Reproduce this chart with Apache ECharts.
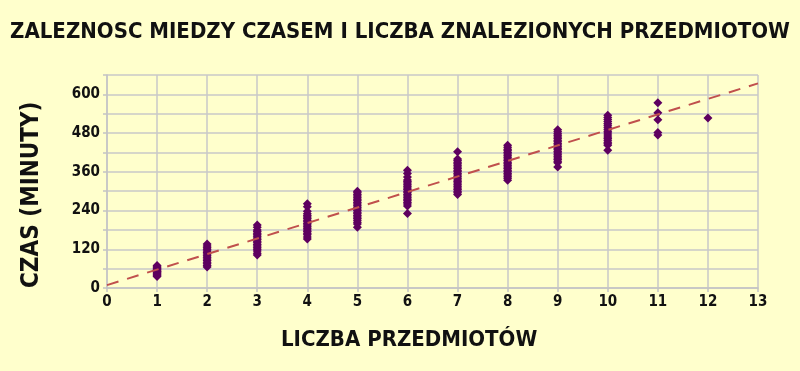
<!DOCTYPE html>
<html>
<head>
<meta charset="utf-8">
<script src="https://cdn.jsdelivr.net/npm/echarts@6/dist/echarts.min.js"></script>
<style>
html,body{margin:0;padding:0;background:#ffffcc;}
#chart{width:800px;height:371px;}
</style>
</head>
<body>
<div id="chart"></div>
<script>
// Data
const titleText = 'ZALEZNOSC MIEDZY CZASEM I LICZBA ZNALEZIONYCH PRZEDMIOTOW';
const xAxisName = 'LICZBA PRZEDMIOTÓW';
const yAxisName = 'CZAS (MINUTY)';

const itemCounts = [1, 2, 3, 4, 5, 6, 7, 8, 9, 10, 11, 12];
const times1 = [36, 39, 42, 45, 48, 50, 52, 55, 58, 60, 63, 66, 70];
const times2 = [65, 70, 75, 80, 85, 90, 95, 100, 105, 110, 115, 120, 125, 130, 136];
const times3 = [102, 108, 115, 120, 125, 130, 135, 140, 145, 150, 155, 160, 165, 170, 175, 180, 188, 195];
const times4 = [152, 158, 165, 170, 175, 180, 185, 190, 195, 200, 205, 210, 215, 220, 225, 230, 238, 252, 261];
const times5 = [188, 198, 204, 210, 215, 220, 225, 230, 235, 240, 245, 250, 255, 260, 265, 270, 275, 280, 285, 290, 295, 300];
const times6 = [231, 254, 260, 265, 270, 275, 280, 285, 290, 295, 300, 305, 310, 315, 320, 325, 330, 335, 344, 355, 365];
const times7 = [290, 295, 300, 305, 310, 315, 320, 325, 330, 335, 340, 345, 350, 355, 360, 365, 370, 375, 380, 385, 390, 395, 400, 422];
const times8 = [334, 340, 345, 350, 355, 360, 365, 370, 375, 380, 385, 390, 395, 400, 405, 410, 415, 420, 425, 430, 436, 442];
const times9 = [375, 388, 393, 398, 403, 408, 413, 418, 423, 428, 433, 438, 443, 448, 453, 458, 463, 468, 473, 478, 484, 490];
const times10 = [427, 442, 447, 452, 458, 463, 468, 474, 480, 486, 492, 498, 504, 510, 516, 522, 528, 535];
const times11 = [474, 482, 521, 543, 574];
const times12 = [527];
const timesByCount = [times1, times2, times3, times4, times5, times6, times7, times8, times9, times10, times11, times12];

// Trend line end points
const trendX = [0, 13];
const trendY = [9, 634];

const yTickLabels = [0, 120, 240, 360, 480, 600];

const scatterData = [];
itemCounts.forEach((c, i) => {
  timesByCount[i].forEach(t => scatterData.push([c, t]));
});
const trendData = trendX.map((x, i) => [x, trendY[i]]);

const FONT = '"DejaVu Sans Condensed", "DejaVu Sans", sans-serif';

const chart = echarts.init(document.getElementById('chart'), null, {renderer: 'canvas'});
chart.setOption({
  backgroundColor: '#ffffcc',
  animation: false,
  title: {
    text: titleText,
    left: 'center',
    top: 16,
    textStyle: {fontFamily: FONT, fontWeight: 'bold', fontSize: 22, color: '#111'}
  },
  graphic: [
    {
      type: 'text',
      left: 281, top: 329,
      style: {text: xAxisName, font: 'bold 22px ' + FONT, fill: '#111'}
    },
    {
      type: 'text',
      rotation: Math.PI / 2,
      x: 20, y: 288,
      style: {text: yAxisName, font: 'bold 24px ' + FONT, fill: '#111', textAlign: 'left', textVerticalAlign: 'top'}
    }
  ],
  grid: {left: 107, right: 42, top: 75, bottom: 83, containLabel: false},
  xAxis: {
    type: 'value', min: 0, max: 13, interval: 1,
    axisLine: {show: true, lineStyle: {color: '#c4c4c4', width: 1.5}},
    axisTick: {show: true, length: 4, lineStyle: {color: '#c4c4c4', width: 1.5}},
    axisLabel: {fontFamily: FONT, fontWeight: 'bold', fontSize: 15, color: '#111', margin: 7},
    splitLine: {show: true, lineStyle: {color: '#c8c8c8', width: 1.5}}
  },
  yAxis: {
    type: 'value', min: 0, max: 660, interval: 60,
    axisLine: {show: true, lineStyle: {color: '#c4c4c4', width: 1.5}},
    axisTick: {show: true, length: 4, lineStyle: {color: '#c4c4c4', width: 1.5}},
    axisLabel: {
      fontFamily: FONT, fontWeight: 'bold', fontSize: 15, color: '#111', margin: 7,
      formatter: v => (yTickLabels.indexOf(v) >= 0 ? String(v) : '')
    },
    splitLine: {show: true, lineStyle: {color: '#c8c8c8', width: 1.5}}
  },
  series: [
    {
      type: 'line',
      data: trendData,
      symbol: 'none',
      lineStyle: {color: '#c0504d', width: 2, type: [12, 9]},
      z: 3
    },
    {
      type: 'scatter',
      data: scatterData,
      symbol: 'diamond',
      symbolSize: 9,
      itemStyle: {color: '#5e0060', opacity: 1},
      z: 2
    }
  ]
});
</script>
</body>
</html>
